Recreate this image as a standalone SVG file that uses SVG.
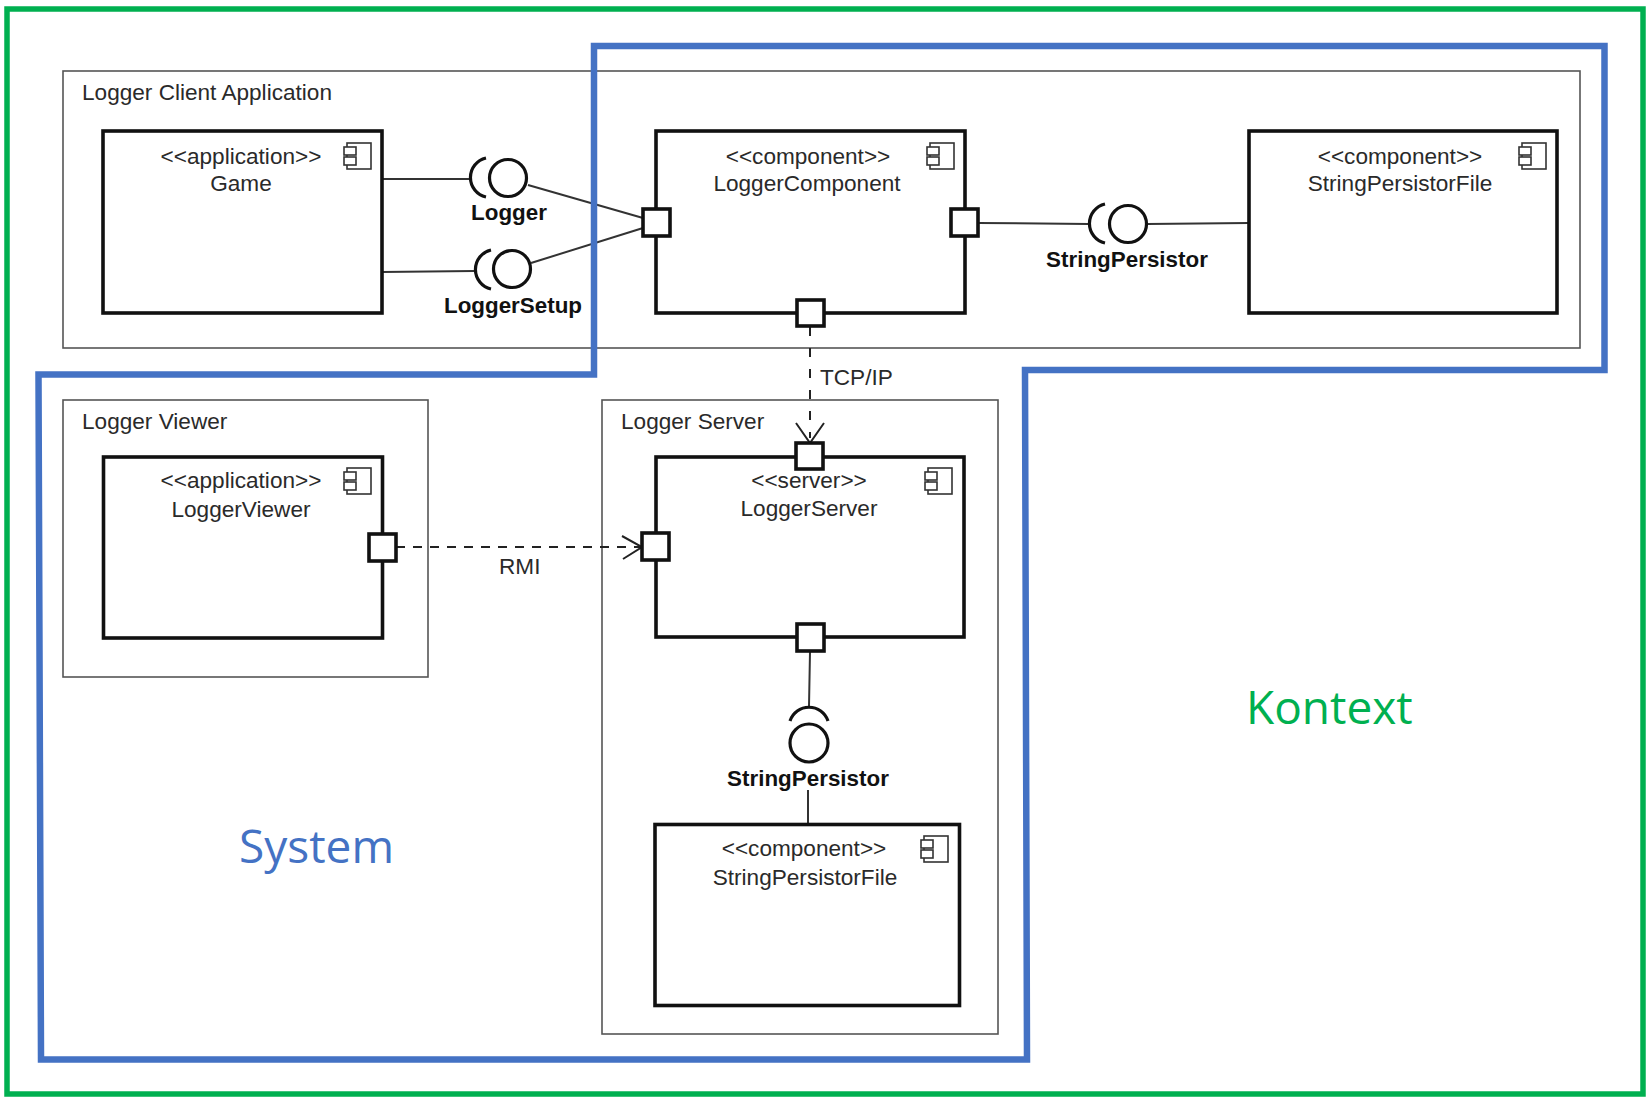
<svg xmlns="http://www.w3.org/2000/svg" width="1651" height="1104" viewBox="0 0 1651 1104">
<style>
text{font-family:"Liberation Sans",Arial,sans-serif;font-size:22.600px;fill:#2a2a2a}
.c{text-anchor:middle}
.b{font-weight:bold;font-size:22.400px;fill:#111}
.outer{fill:none;stroke:#555;stroke-width:1.6}
.box{fill:#fff;stroke:#111;stroke-width:3.6}
.port{fill:#fff;stroke:#111;stroke-width:3.6}
.ico{fill:#fff;stroke:#333;stroke-width:1.6}
.lol{fill:none;stroke:#111;stroke-width:3.200}
.line{fill:none;stroke:#333;stroke-width:2}
.dash{fill:none;stroke:#222;stroke-width:2;stroke-dasharray:9 8}
.dash2{fill:none;stroke:#222;stroke-width:2;stroke-dasharray:9 12}
.open{fill:none;stroke:#222;stroke-width:2}
.big{font-family:"Open Sans","Noto Sans",sans-serif;font-size:46px}
</style>
<defs>
<g id="icon"><rect class="ico" x="3" y="0" width="24" height="26"/><rect class="ico" x="0" y="4" width="12" height="8"/><rect class="ico" x="0" y="14" width="12" height="8"/></g>
</defs>
<rect width="1651" height="1104" fill="#fff"/>
<g id="client-app"><rect class="outer" x="63" y="71" width="1517" height="277"/><text x="82" y="100">Logger Client Application</text></g>
<g id="viewer-app"><rect class="outer" x="63" y="400" width="365" height="277"/><text x="82" y="429">Logger Viewer</text></g>
<g id="server-app"><rect class="outer" x="602" y="400" width="396" height="634"/><text x="621" y="429">Logger Server</text></g>
<g id="connectors">
<path class="line" d="M382 179H470M382 272L474 271M528 185L643 218M531 263L643 228M978 223L1089 224M1147 224L1249 223M810 652L809 706M808 790V824"/>
<path class="dash2" d="M810 327V438"/>
<path class="dash" d="M396 547H640"/>
<path class="open" d="M796 423L810 443L824 423M622 536L642 547L623 559"/>
<text x="820" y="385">TCP/IP</text>
<text x="499" y="574">RMI</text>
</g>
<g id="game"><rect class="box" x="103" y="131" width="279" height="182"/><use href="#icon" x="344" y="143"/><text class="c" x="241" y="164">&lt;&lt;application&gt;&gt;</text><text class="c" x="241" y="191">Game</text></g>
<g id="logger-iface"><circle class="lol" cx="508" cy="178" r="18.500"/><path class="lol" d="M486 158A20 20 0 0 0 486 197"/><text class="c b" x="509" y="220">Logger</text></g>
<g id="loggersetup-iface"><circle class="lol" cx="512" cy="269" r="18.500"/><path class="lol" d="M491 250A20 20 0 0 0 491 289"/><text class="c b" x="513" y="313">LoggerSetup</text></g>
<g id="logger-component"><rect class="box" x="656" y="131" width="309" height="182"/><use href="#icon" x="927" y="143"/><text class="c" x="808" y="164">&lt;&lt;component&gt;&gt;</text><text class="c" x="807" y="191">LoggerComponent</text><rect class="port" x="643" y="209" width="27" height="27"/><rect class="port" x="951" y="209" width="27" height="27"/><rect class="port" x="797" y="300" width="27" height="26"/></g>
<g id="stringpersistor-iface"><circle class="lol" cx="1128" cy="224" r="18.500"/><path class="lol" d="M1105 204A20 20 0 0 0 1105 243"/><text class="c b" x="1127" y="267">StringPersistor</text></g>
<g id="string-persistor-file"><rect class="box" x="1249" y="131" width="308" height="182"/><use href="#icon" x="1519" y="143"/><text class="c" x="1400" y="164">&lt;&lt;component&gt;&gt;</text><text class="c" x="1400" y="191">StringPersistorFile</text></g>
<g id="logger-viewer"><rect class="box" x="103.500" y="457" width="279" height="181"/><use href="#icon" x="344" y="468"/><text class="c" x="241" y="488">&lt;&lt;application&gt;&gt;</text><text class="c" x="241" y="517">LoggerViewer</text><rect class="port" x="369" y="534" width="27" height="27"/></g>
<g id="logger-server"><rect class="box" x="656" y="457" width="308" height="180"/><use href="#icon" x="925" y="468"/><rect class="port" x="796" y="443" width="27" height="26"/><rect class="port" x="642" y="533" width="27" height="27"/><rect class="port" x="797" y="624" width="27" height="27"/><text class="c" x="809" y="488">&lt;&lt;server&gt;&gt;</text><text class="c" x="809" y="516">LoggerServer</text></g>
<g id="stringpersistor-iface-2"><circle class="lol" cx="809" cy="743" r="19"/><path class="lol" d="M790 721A20 20 0 0 1 828 721"/><text class="c b" x="808" y="786">StringPersistor</text></g>
<g id="string-persistor-file-2"><rect class="box" x="655" y="824.500" width="304.500" height="181"/><use href="#icon" x="921" y="836"/><text class="c" x="804" y="856">&lt;&lt;component&gt;&gt;</text><text class="c" x="805" y="885">StringPersistorFile</text></g>
<g id="system"><path d="M594 46H1604.500V370H1025L1027 1059.500H41L38.500 374.500H594Z" fill="none" stroke="#4472C4" stroke-width="6.500"/><text class="big" x="239" y="863" style="fill:#4472C4">System</text></g>
<g id="kontext"><rect x="7" y="9" width="1636" height="1085" fill="none" stroke="#00B050" stroke-width="5.500"/><text class="big" x="1246" y="724" style="fill:#00B050">Kontext</text></g>
</svg>
